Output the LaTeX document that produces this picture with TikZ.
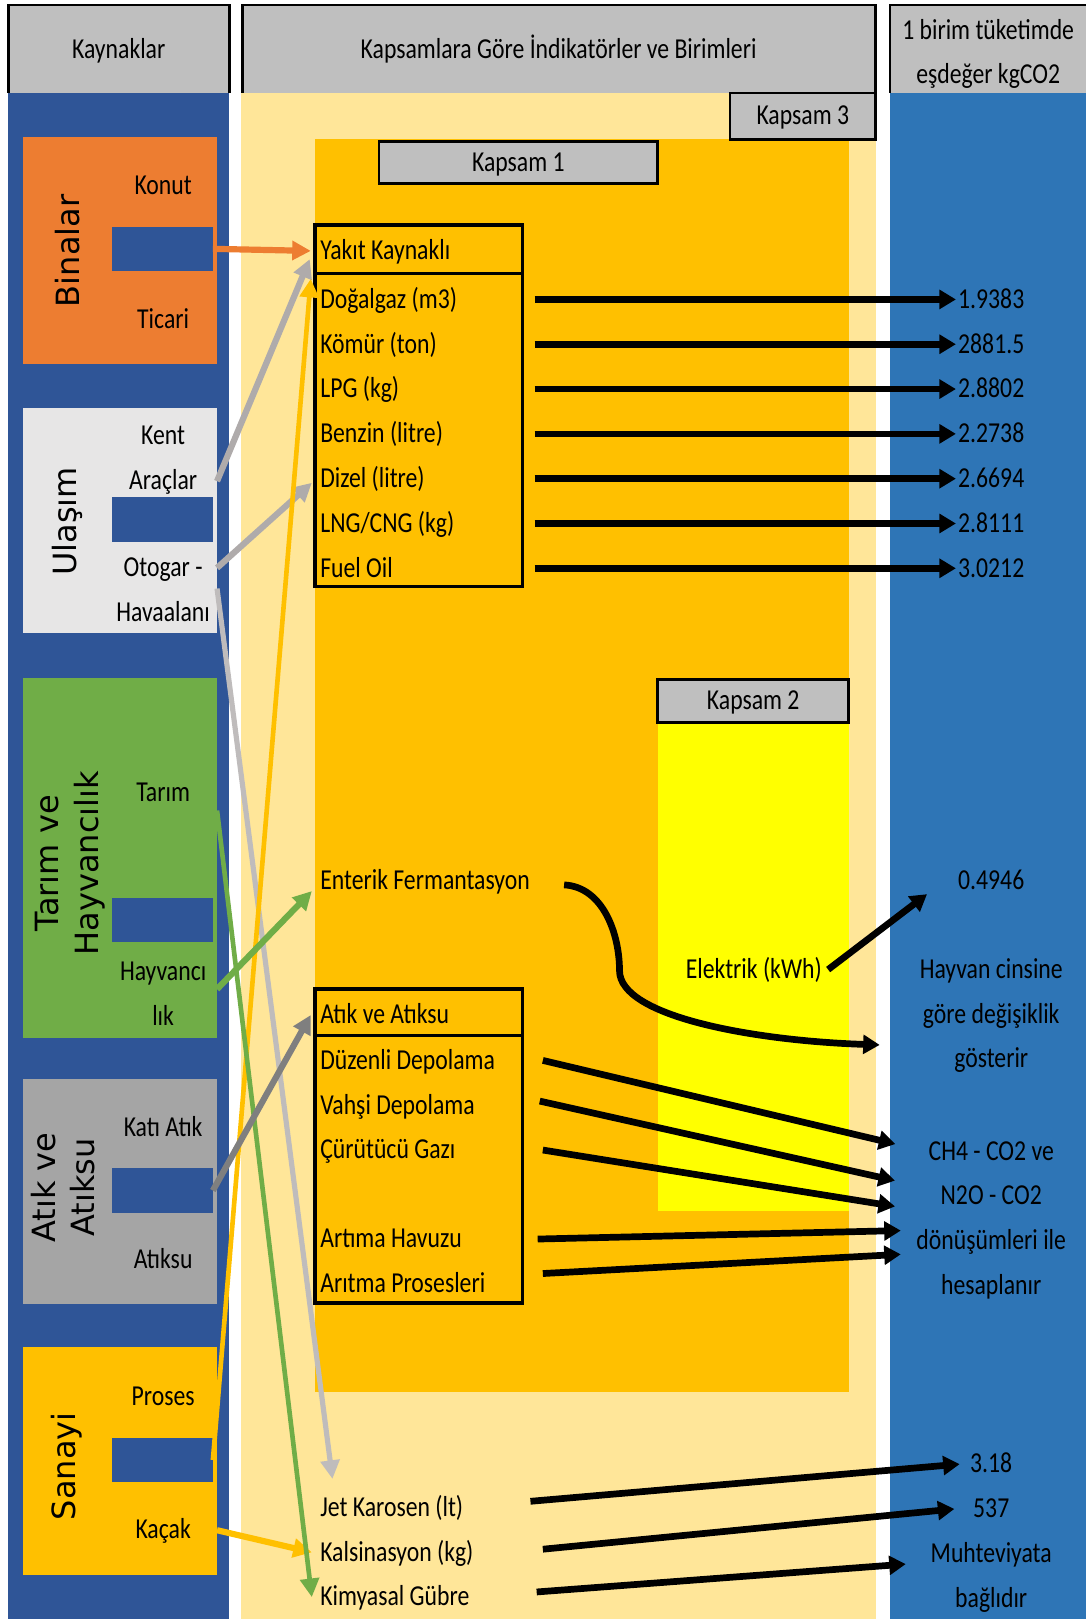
\documentclass[tikz,border=0pt]{standalone}
\usepackage{fontspec}
\setmainfont{Carlito}
\newfontfamily\calibfont{Carlito}[FakeStretch=0.82]
\newfontfamily\sectfont{DejaVu Sans}
\usepackage{tikz}
\usetikzlibrary{arrows.meta,positioning}
\definecolor{hdrgray}{HTML}{BFBFBF}
\definecolor{srcblue}{HTML}{2F5597}
\definecolor{valblue}{HTML}{2E75B6}
\definecolor{paleyel}{HTML}{FFE699}
\definecolor{scgold}{HTML}{FFC000}
\definecolor{scyellow}{HTML}{FFFF00}
\definecolor{binorange}{HTML}{ED7D31}
\definecolor{ulasgray}{HTML}{E7E6E6}
\definecolor{tarimgreen}{HTML}{70AD47}
\definecolor{atikgray}{HTML}{A5A5A5}
\definecolor{arrgray}{HTML}{AFABAB}
\definecolor{arrdark}{HTML}{7F7F7F}
\tikzset{
  txt/.style={font={\calibfont\fontsize{28}{34}\selectfont}, inner sep=0pt, text height=22pt, text depth=5pt},
  ltxt/.style={txt, anchor=west},
  nextitem/.style={ltxt, below=of #1.south west, anchor=north west},
  nextval/.style={txt, below=of #1},
  vtxt/.style={font={\sectfont\fontsize{31}{38}\selectfont}, rotate=90, align=center, inner sep=0pt},
  secbox/.style={minimum width=188pt, inner sep=0pt},
  slot/.style={fill=srcblue, minimum width=98pt, minimum height=43pt, inner sep=0pt},
  kapsam/.style={txt, draw=black, line width=2.5pt, fill=hdrgray},
  frame/.style={draw=black, line width=3.5pt, inner sep=0pt},
  blkarr/.style={-{Triangle[length=16pt,width=18pt]}, line width=6.5pt},
  srcarr/.style={-{Triangle[length=18pt,width=18pt]}, line width=6pt}
}

\begin{document}
\begin{tikzpicture}[x=1pt, y=-1pt, node distance=16pt]
  \useasboundingbox (0,0) rectangle (1052,1568);
  % columns
  \fill[hdrgray] (8,5) rectangle (222,90);
  \fill[hdrgray] (235,5) rectangle (848,90);
  \fill[hdrgray] (862,5) rectangle (1052,90);
  \draw[line width=2.5pt] (8,90) -- (8,5) -- (222,5) -- (222,90);
  \draw[line width=2.5pt] (235,90) -- (235,5) -- (848,5) -- (848,90);
  \draw[line width=2.5pt] (862,90) -- (862,5) -- (1052,5);
  \fill[srcblue] (8,90) rectangle (222,1568);
  \fill[paleyel] (233,90) rectangle (848,1568);
  \fill[valblue] (862,90) rectangle (1052,1568);
  \fill[scgold] (305,135) rectangle (822,1348);
  \fill[scyellow] (637,700) rectangle (822,1173);

  \node[txt] (hkaynak) at (115,48) {Kaynaklar};
  \node[txt] (hkapsam) at (541,48) {Kapsamlara Göre İndikatörler ve Birimleri};
  \node[txt] (hbirim1) at (957,30) {1 birim tüketimde};
  \node[txt] (hbirim2) at (957,72) {eşdeğer kgCO2};

  % sources
  \node[secbox, fill=binorange, minimum height=220pt] (binbox) at (116,243) {};
  \node[secbox, fill=ulasgray, minimum height=218pt] (ulasbox) at (116,504) {};
  \node[secbox, fill=tarimgreen, minimum height=348pt] (tarimbox) at (116,831) {};
  \node[secbox, fill=atikgray, minimum height=218pt] (atikbox) at (116,1154) {};
  \node[secbox, fill=scgold, minimum height=220pt] (sanbox) at (116,1415) {};

  \node[vtxt] (binalar) at (65,243) {Binalar};
  \node[slot] (binslot) at (157,241) {};
  \node[txt] (konut) at (158,180) {Konut};
  \node[txt] (ticari) at (158,310) {Ticari};

  \node[vtxt] (ulasim) at (65,505) {Ulaşım};
  \node[slot] (ulasslot) at (157,503) {};
  \node[txt] (kent) at (158,422) {Kent};
  \node[txt] (araclar) at (158,466) {Araçlar};
  \node[txt] (otogar) at (158,550) {Otogar -};
  \node[txt] (havaalani) at (158,593) {Havaalanı};

  \node[vtxt] (tarimhay) at (68,836) {Tarım ve\\Hayvancılık};
  \node[slot] (tarimslot) at (157,891) {};
  \node[txt] (tarim) at (158,768) {Tarım};
  \node[txt] (hayvanci) at (158,941) {Hayvancı};
  \node[txt] (lik) at (158,985) {lık};

  \node[vtxt] (atikvert) at (61,1150) {Atık ve\\Atıksu};
  \node[slot] (atikslot) at (157,1153) {};
  \node[txt] (katiatik) at (158,1092) {Katı Atık};
  \node[txt] (atiksu) at (158,1220) {Atıksu};

  \node[vtxt] (sanayi) at (65,1420) {Sanayi};
  \node[slot] (sanslot) at (157,1414) {};
  \node[txt] (proses) at (158,1353) {Proses};
  \node[txt] (kacak) at (158,1482) {Kaçak};

  % scopes
  \node[kapsam, minimum width=141pt, minimum height=45pt] (k3) at (777.5,112.5) {Kapsam 3};
  \node[kapsam, minimum width=270pt, minimum height=41pt] (k1) at (502,157.5) {Kapsam 1};
  \node[kapsam, minimum width=185pt, minimum height=42pt] (k2) at (729.5,679) {Kapsam 2};

  \node[frame, minimum width=201pt, minimum height=350pt] (yakitbox) at (405.5,393) {};
  \draw[line width=3.5pt] (yakitbox.west |- 0,265) -- (yakitbox.east |- 0,265);
  \node[frame, minimum width=201pt, minimum height=304pt] (atikfr) at (405.5,1110) {};
  \draw[line width=3.5pt] (atikfr.west |- 0,1003) -- (atikfr.east |- 0,1003);

  \node[ltxt] (yakithdr) at (310,243) {Yakıt Kaynaklı};
  \node[ltxt] (dogalgaz) at (310,290) {Doğalgaz (m3)};
  \node[nextitem=dogalgaz] (komur) {Kömür (ton)};
  \node[nextitem=komur] (lpg) {LPG (kg)};
  \node[nextitem=lpg] (benzin) {Benzin (litre)};
  \node[nextitem=benzin] (dizel) {Dizel (litre)};
  \node[nextitem=dizel] (lng) {LNG/CNG (kg)};
  \node[nextitem=lng] (fueloil) {Fuel Oil};

  \node[ltxt] (enterik) at (310,853) {Enterik Fermantasyon};
  \node[txt] (elektrik) at (730,939) {Elektrik (kWh)};

  \node[ltxt] (atikhdr) at (310,983) {Atık ve Atıksu};
  \node[ltxt] (duzenli) at (310,1027) {Düzenli Depolama};
  \node[nextitem=duzenli] (vahsi) {Vahşi Depolama};
  \node[nextitem=vahsi] (curutucu) {Çürütücü Gazı};
  \node[ltxt] (artima) at (310,1200) {Artıma Havuzu};
  \node[nextitem=artima] (aritma) {Arıtma Prosesleri};

  \node[ltxt] (jet) at (310,1460) {Jet Karosen (lt)};
  \node[nextitem=jet] (kalsin) {Kalsinasyon (kg)};
  \node[nextitem=kalsin] (kimya) {Kimyasal Gübre};

  % factors
  \node[txt] (v1) at (960,290) {1.9383};
  \node[nextval=v1] (v2) {2881.5};
  \node[nextval=v2] (v3) {2.8802};
  \node[nextval=v3] (v4) {2.2738};
  \node[nextval=v4] (v5) {2.6694};
  \node[nextval=v5] (v6) {2.8111};
  \node[nextval=v6] (v7) {3.0212};
  \node[txt] (v8) at (960,853) {0.4946};
  \node[txt] (hay1) at (960,939) {Hayvan cinsine};
  \node[nextval=hay1] (hay2) {göre değişiklik};
  \node[nextval=hay2] (hay3) {gösterir};
  \node[txt] (ch1) at (960,1115) {CH4 - CO2 ve};
  \node[nextval=ch1] (ch2) {N2O - CO2};
  \node[nextval=ch2] (ch3) {dönüşümleri ile};
  \node[nextval=ch3] (ch4) {hesaplanır};
  \node[txt] (jv) at (960,1418) {3.18};
  \node[nextval=jv] (kv) {537};
  \node[nextval=kv] (mv) {Muhteviyata};
  \node[nextval=mv] (bv) {bağlıdır};
  \coordinate (entend) at (852,1012);

  % source arrows
  \draw[srcarr, binorange] (binslot.east) -- ([xshift=-9pt]yakithdr.west);
  \draw[srcarr, arrgray] (ulasbox.east |- araclar) -- ([xshift=-10pt,yshift=-8pt]yakithdr.west);
  \draw[srcarr, arrgray] (ulasbox.east |- otogar) -- ([xshift=-8pt,yshift=-4pt]dizel.west);
  \draw[srcarr, arrgray!80, line width=5pt] ([yshift=-20pt]ulasbox.east |- otogar) -- ([xshift=12pt,yshift=14pt]jet.north west);
  \draw[srcarr, scgold, line width=4.5pt] (sanslot.east) -- ([xshift=-9pt,yshift=-27pt]yakithdr.west);
  \draw[srcarr, scgold] (sanbox.east |- kacak) -- ([xshift=-8pt]kalsin.west);
  \draw[srcarr, tarimgreen, line width=4.5pt] ([yshift=-17pt]tarimbox.east |- tarim) -- ([xshift=-8pt]kimya.west);
  \draw[srcarr, tarimgreen] ([yshift=-17pt]tarimbox.east |- hayvanci) -- ([xshift=-8pt,yshift=-10pt]enterik.west);
  \draw[srcarr, arrdark] (atikslot.east) -- ([xshift=-9pt]atikhdr.west);

  % factor arrows
  \foreach \v in {v1,v2,v3,v4,v5,v6,v7}
    \draw[blkarr] ([xshift=10pt]yakitbox.east |- \v.west) -- ([xshift=-2pt]\v.west);
  \draw[blkarr] ([xshift=33pt,yshift=-4pt]enterik.east) .. controls +(38,2) and +(0,-35) .. (600,940)
    .. controls +(0,45) and +(-120,-4) .. (entend);
  \draw[blkarr] ([xshift=6pt]elektrik.east) -- ([xshift=-30pt,yshift=-13pt]v8.west);
  \draw[blkarr] ([xshift=18pt]atikfr.east |- duzenli) -- ([xshift=-32pt,yshift=7pt]ch1.west);
  \draw[blkarr] ([xshift=15pt,yshift=4pt]atikfr.east |- vahsi) -- ([xshift=-44pt,yshift=15pt]ch2.west);
  \draw[blkarr] ([xshift=18pt]atikfr.east |- curutucu) -- ([xshift=-44pt,yshift=-10pt]ch2.west);
  \draw[blkarr] ([xshift=13pt]atikfr.east |- artima) -- ([xshift=-15pt,yshift=10pt]ch3.west);
  \draw[blkarr] ([xshift=18pt,yshift=10pt]atikfr.east |- aritma) -- ([xshift=-15pt,yshift=-13pt]ch3.west);
  \draw[blkarr] ([xshift=6pt,yshift=6pt]atikfr.east |- jet) -- ([xshift=-10pt]jv.west);
  \draw[blkarr] ([xshift=18pt,yshift=3pt]atikfr.east |- kalsin) -- ([xshift=-18pt]kv.west);
  \draw[blkarr] ([xshift=12pt,yshift=5pt]atikfr.east |- kimya) -- ([xshift=-24pt,yshift=-10pt]mv.west);
\end{tikzpicture}
\end{document}
